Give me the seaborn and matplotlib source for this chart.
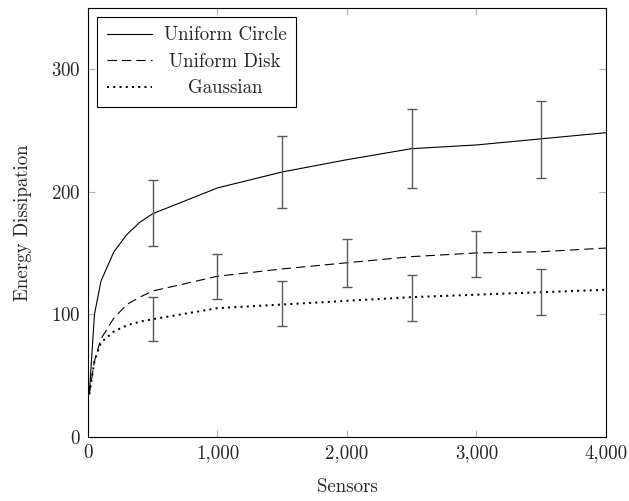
import matplotlib
matplotlib.use("Agg")
import matplotlib.pyplot as plt
import matplotlib.ticker as mticker
from matplotlib.transforms import Affine2D
import seaborn as sns
import pandas as pd
import numpy as np

# ---- data ----
sensors = [10, 50, 100, 200, 300, 400, 500, 1000, 1500, 2000, 2500, 3000, 3500, 4000]
uniform_circle = [35, 100, 127, 151, 165, 175, 182, 203, 216, 226, 235, 238, 243, 248]
uniform_disk = [35, 62, 80, 97, 108, 114, 119, 131, 137, 142, 147, 150, 151, 154]
gaussian = [35, 62, 77, 86, 91, 94, 96, 105, 108, 111, 114, 116, 118, 120]

circle_err_x = [500, 1500, 2500, 3500]
circle_err_lo = [155.7, 186.6, 203, 211]
circle_err_hi = [209.5, 245, 267.6, 274]

disk_err_x = [1000, 2000, 3000]
disk_err_lo = [112.8, 122, 130.4]
disk_err_hi = [149, 161, 168]

gauss_err_x = [500, 1500, 2500, 3500]
gauss_err_lo = [78, 90.5, 94.5, 99.4]
gauss_err_hi = [113.8, 127, 132.3, 136.7]

series_names = ["Uniform Circle", "Uniform Disk", "Gaussian"]
x_ticks = [0, 1000, 2000, 3000, 4000]
y_ticks = [0, 100, 200, 300]

sns.set_style("ticks")
plt.rcParams["font.family"] = ["cmr10", "DejaVu Serif"]
plt.rcParams["axes.formatter.use_mathtext"] = True
FS = 13.6
plt.rcParams["font.size"] = FS

df = pd.DataFrame({
    "Sensors": sensors * 3,
    "Energy": uniform_circle + uniform_disk + gaussian,
    "Series": [series_names[0]] * len(sensors) + [series_names[1]] * len(sensors)
              + [series_names[2]] * len(sensors),
})

fig = plt.figure(figsize=(6.29, 5.01), dpi=100)
ax = fig.add_axes([0.1399, 0.1277, 0.8235, 0.8573])

styles = {
    "Uniform Circle": dict(linestyle="-", linewidth=0.8),
    "Uniform Disk": dict(linestyle=(0, (8.5, 4.5)), linewidth=0.8),
    "Gaussian": dict(linestyle=(0, (1, 2.1)), linewidth=1.45),
}
for name in series_names:
    sub = df[df["Series"] == name]
    sns.lineplot(data=sub, x="Sensors", y="Energy", ax=ax, color="black",
                 label=name, estimator=None, sort=False, **styles[name])

def draw_err(xs, lo, hi):
    lo = np.array(lo); hi = np.array(hi)
    mid = (lo + hi) / 2
    ax.errorbar(xs, mid, yerr=(hi - lo) / 2, fmt="none", ecolor="#5a5a5a",
                elinewidth=1.0, capsize=3.8, capthick=1.0, zorder=3)

draw_err(circle_err_x, circle_err_lo, circle_err_hi)
draw_err(disk_err_x, disk_err_lo, disk_err_hi)
draw_err(gauss_err_x, gauss_err_lo, gauss_err_hi)

ax.set_xlim(0, 4000)
ax.set_ylim(0, 350)
ax.set_xticks(x_ticks)
ax.set_yticks(y_ticks)
ax.xaxis.set_major_formatter(mticker.FuncFormatter(lambda v, p: f"{int(v):,}"))
ax.tick_params(direction="in", length=5, width=0.8, color="#b0b0b0",
               top=True, right=True, labelsize=FS, pad=5)
for s in ax.spines.values():
    s.set_visible(True)
    s.set_color("black")
    s.set_linewidth(0.8)

ax.set_xlabel("Sensors", labelpad=12, fontsize=FS)
ax.set_ylabel("Energy Dissipation", labelpad=14, fontsize=FS)

leg = ax.legend(loc="upper left", frameon=True, fancybox=False,
                edgecolor="black", framealpha=1, borderaxespad=0.5,
                handlelength=2.4, handletextpad=0.6, fontsize=FS,
                labelspacing=0.45, borderpad=0.5)
leg.get_frame().set_linewidth(0.8)

# centre legend texts within their column (pgfplots style)
fig.canvas.draw()
r = fig.canvas.get_renderer()
texts = leg.get_texts()
ws = [t.get_window_extent(r).width for t in texts]
mw = max(ws)
for t, w in zip(texts, ws):
    t.set_transform(t.get_transform() + Affine2D().translate((mw - w) / 2, 0))

fig.savefig("out.png", dpi=100)
